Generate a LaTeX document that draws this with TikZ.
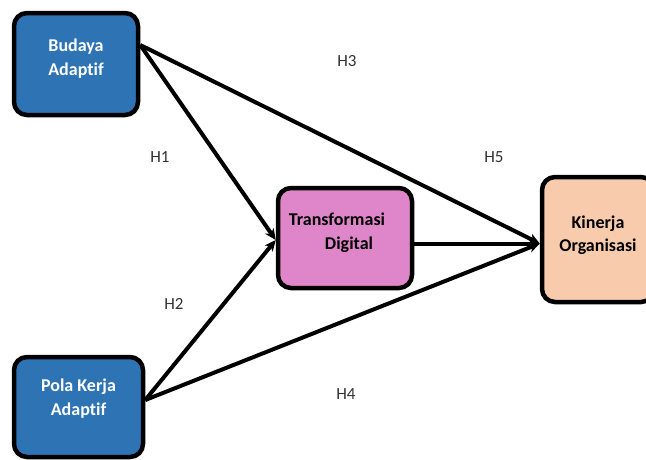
\documentclass[tikz,border=0pt]{standalone}
\usepackage{fontspec}
\setmainfont{Carlito}[RawFeature=-liga]
\usetikzlibrary{arrows.meta,calc,shadows}
\definecolor{boxblue}{HTML}{2E74B5}
\definecolor{boxpink}{HTML}{DE86C9}
\definecolor{boxpeach}{HTML}{F8CBAD}
\definecolor{labgray}{HTML}{333333}
\newcommand{\boxtxt}[2]{\raisebox{0pt}[\height][\dimexpr\depth+#1\relax]{\begin{tabular}{@{}c@{}}#2\end{tabular}}}
\tikzset{
  varbox/.style={draw=black, line width=4.5pt, rounded corners=13pt, inner sep=0pt,
    align=center, font=\fontsize{18}{23.5}\selectfont\bfseries,
    drop shadow={opacity=0.25, shadow xshift=1.5pt, shadow yshift=-1.5pt}},
  hlab/.style={font=\fontsize{17}{18}\selectfont, text=labgray},
  link/.style={line width=4pt, -{Stealth[length=11pt,width=10pt,inset=3pt]}}
}
\begin{document}
\begin{tikzpicture}[x=1pt,y=-1pt]
\useasboundingbox (0,0) rectangle (646,459);
\node[varbox, fill=boxblue, text=white, minimum width=124pt, minimum height=102pt] (ba) at (76,64) {\boxtxt{10pt}{Budaya\\Adaptif}};
\node[varbox, fill=boxblue, text=white, minimum width=129pt, minimum height=100pt] (pk) at (78.5,407) {\boxtxt{16pt}{Pola Kerja\\Adaptif}};
\node[varbox, fill=boxpink, text=black, minimum width=134pt, minimum height=100pt] (td) at (345,238) {\boxtxt{10pt}{\hspace*{-16pt}Transformasi\\\hspace*{8pt}Digital}};
\node[varbox, fill=boxpeach, text=black, minimum width=112pt, minimum height=125pt] (ko) at (598,239.5) {\boxtxt{8pt}{Kinerja\\Organisasi}};
\coordinate (baout) at ($(ba.east)+(0,-19)$);
\coordinate (pkout) at ($(pk.east)+(0,-7)$);
\coordinate (koin) at ($(ko.west)+(0,4)$);
\coordinate (tdout) at ($(td.east)+(0,5.5)$);
\coordinate (tdin) at ($(td.west)+(0,2)$);
\draw[link] (baout) -- (tdin);
\draw[link] (pkout) -- (tdin);
\draw[link] (baout) -- (koin);
\draw[link] (pkout) -- (koin);
\draw[link] (tdout) -- (koin);
\node[hlab] (h3) at (347,61) {H3};
\node[hlab] (h1) at (160,157) {H1};
\node[hlab] (h5) at (494,157) {H5};
\node[hlab] (h2) at (174,304) {H2};
\node[hlab] (h4) at (346,394) {H4};
\end{tikzpicture}
\end{document}
